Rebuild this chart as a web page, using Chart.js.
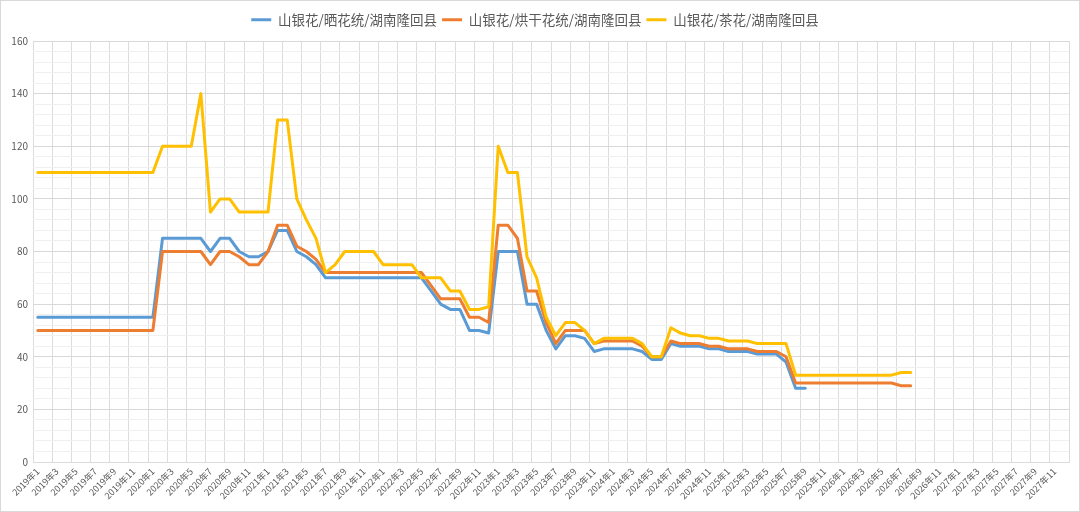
<!DOCTYPE html>
<html>
<head>
<meta charset="utf-8">
<script src="https://cdn.jsdelivr.net/npm/chart.js@4.4.1/dist/chart.umd.min.js"></script>
<style>
  html, body { margin: 0; padding: 0; background: #fff; }
  #wrap { position: relative; width: 1080px; height: 512px; box-sizing: border-box; border: 1px solid #d9d9d9; background: #fff; }
  canvas { display: block; }
</style>
</head>
<body>
<div id="wrap"><canvas id="c"></canvas></div>
<script>
// ---- Data ----
const years = [2019, 2020, 2021, 2022, 2023, 2024, 2025, 2026, 2027];
const months = [1, 2, 3, 4, 5, 6, 7, 8, 9, 10, 11, 12];
const categories = [];
years.forEach(y => months.forEach(m => categories.push(y + '年' + m)));

const seriesNames = ['山银花/晒花统/湖南隆回县', '山银花/烘干花统/湖南隆回县', '山银花/茶花/湖南隆回县'];

const sunDried = [
  55, 55, 55, 55, 55, 55, 55, 55, 55, 55, 55, 55,           // 2019
  55, 85, 85, 85, 85, 85, 80, 85, 85, 80, 78, 78,           // 2020
  80, 88, 88, 80, 78, 75, 70, 70, 70, 70, 70, 70,           // 2021
  70, 70, 70, 70, 70, 65, 60, 58, 58, 50, 50, 49,           // 2022
  80, 80, 80, 60, 60, 50, 43, 48, 48, 47, 42, 43,           // 2023
  43, 43, 43, 42, 39, 39, 45, 44, 44, 44, 43, 43,           // 2024
  42, 42, 42, 41, 41, 41, 38, 28, 28, null, null, null,     // 2025
  null, null, null, null, null, null, null, null, null, null, null, null,
  null, null, null, null, null, null, null, null, null, null, null, null
];
const ovenDried = [
  50, 50, 50, 50, 50, 50, 50, 50, 50, 50, 50, 50,
  50, 80, 80, 80, 80, 80, 75, 80, 80, 78, 75, 75,
  80, 90, 90, 82, 80, 77, 72, 72, 72, 72, 72, 72,
  72, 72, 72, 72, 72, 67, 62, 62, 62, 55, 55, 53,
  90, 90, 85, 65, 65, 53, 45, 50, 50, 50, 45, 46,
  46, 46, 46, 44, 40, 40, 46, 45, 45, 45, 44, 44,
  43, 43, 43, 42, 42, 42, 40, 30, 30, 30, 30, 30,
  30, 30, 30, 30, 30, 30, 29, 29, null, null, null, null,
  null, null, null, null, null, null, null, null, null, null, null, null
];
const teaFlower = [
  110, 110, 110, 110, 110, 110, 110, 110, 110, 110, 110, 110,
  110, 120, 120, 120, 120, 140, 95, 100, 100, 95, 95, 95,
  95, 130, 130, 100, 92, 85, 72, 75, 80, 80, 80, 80,
  75, 75, 75, 75, 70, 70, 70, 65, 65, 58, 58, 59,
  120, 110, 110, 78, 70, 55, 48, 53, 53, 50, 45, 47,
  47, 47, 47, 45, 40, 40, 51, 49, 48, 48, 47, 47,
  46, 46, 46, 45, 45, 45, 45, 33, 33, 33, 33, 33,
  33, 33, 33, 33, 33, 33, 34, 34, null, null, null, null,
  null, null, null, null, null, null, null, null, null, null, null, null
];
const yMin = 0, yMax = 160, yMinorStep = 4, yLabelStep = 20;

// ---- Chart ----
const colors = ['#5B9BD5', '#ED7D31', '#FFC000'];
const textColor = '#595959';
const fontFam = '"Noto Sans CJK SC", "Noto Sans", sans-serif';

function ds(label, data, color, order) {
  return {
    label, data,
    borderColor: color, backgroundColor: color,
    borderWidth: 3, pointRadius: 0, pointHoverRadius: 0,
    tension: 0, spanGaps: false, fill: false, order,
    borderJoinStyle: 'round', borderCapStyle: 'round'
  };
}

// add a little space below the legend
const legendGap = {
  id: 'legendGap',
  beforeInit(chart) {
    const lg = chart.legend;
    if (!lg) return;
    const orig = lg.fit;
    lg.fit = function () { orig.call(this); this.height += 4.5; };
  }
};

new Chart(document.getElementById('c'), {
  type: 'line',
  data: {
    labels: categories,
    datasets: [
      ds(seriesNames[0], sunDried, colors[0], 3),
      ds(seriesNames[1], ovenDried, colors[1], 2),
      ds(seriesNames[2], teaFlower, colors[2], 1)
    ]
  },
  plugins: [legendGap],
  options: {
    responsive: true,
    maintainAspectRatio: false,
    animation: false,
    layout: { padding: { top: 7, right: 10, bottom: 0, left: 0 } },
    plugins: {
      tooltip: { enabled: false },
      legend: {
        position: 'top',
        labels: {
          usePointStyle: true,
          pointStyle: 'line',
          pointStyleWidth: 20,
          padding: 5,
          color: textColor,
          font: { family: fontFam, size: 13.5 },
          sort: (a, b) => a.datasetIndex - b.datasetIndex
        }
      }
    },
    scales: {
      x: {
        offset: true,
        grid: {
          offset: true,
          drawTicks: false,
          color: ctx => ((ctx.index === undefined ? 0 : ctx.index) % 2 === 0 ? '#dcdcdc' : 'rgba(0,0,0,0)'),
          lineWidth: 1
        },
        border: { display: true, color: '#dcdcdc' },
        ticks: {
          autoSkip: false,
          minRotation: 45,
          maxRotation: 45,
          padding: 4,
          color: textColor,
          font: { family: fontFam, size: 9 },
          callback: function (v, i) { return i % 2 === 0 ? this.getLabelForValue(v) : ''; }
        },
        afterFit: s => { s.height = 49; }
      },
      y: {
        min: yMin, max: yMax,
        grid: {
          drawTicks: false,
          color: ctx => (ctx.tick && ctx.tick.value % yLabelStep === 0 ? '#d9d9d9' : '#f0f0f0')
        },
        border: { display: false },
        ticks: {
          stepSize: yMinorStep,
          autoSkip: false,
          padding: 5,
          color: textColor,
          font: { family: fontFam, size: 10 },
          callback: v => (v % yLabelStep === 0 ? v : '')
        },
        afterFit: s => { s.width = 32; }
      }
    }
  }
});
</script>
</body>
</html>
